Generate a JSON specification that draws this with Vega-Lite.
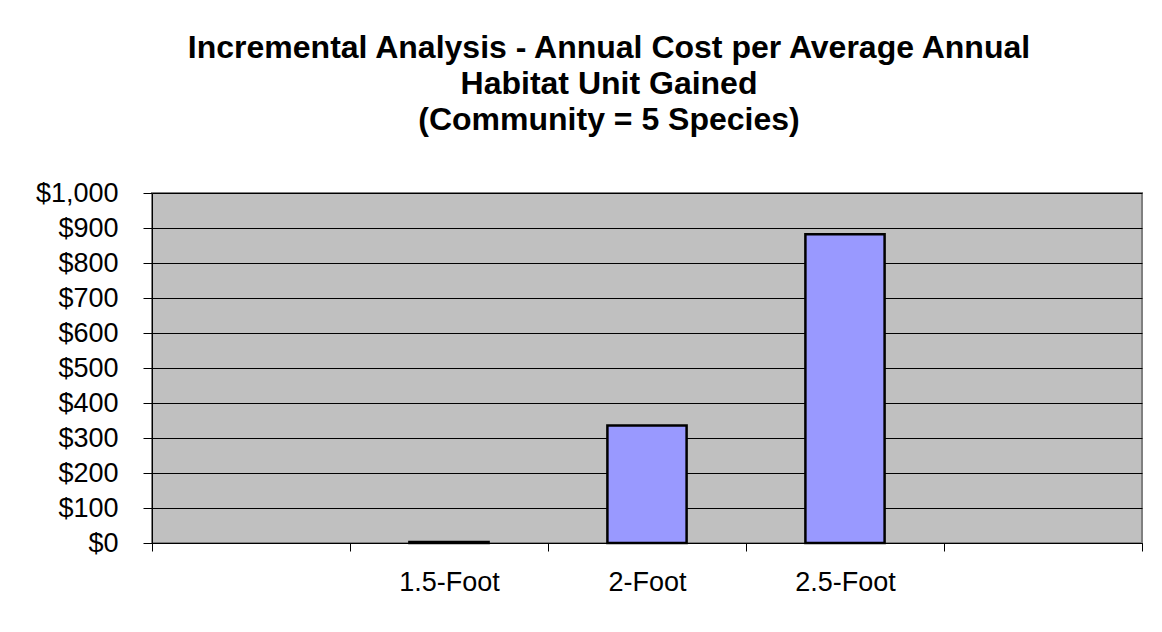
{
  "$schema": "https://vega.github.io/schema/vega-lite/v6.json",
  "autosize": {"type": "none"},
  "width": 990,
  "height": 350,
  "padding": {"left": 152, "top": 193, "right": 20, "bottom": 89},
  "background": "white",
  "title": {
    "text": ["Incremental Analysis - Annual Cost per Average Annual", "Habitat Unit Gained", "(Community = 5 Species)"],
    "font": "Liberation Sans",
    "fontSize": 32,
    "fontWeight": "bold",
    "color": "black",
    "anchor": "middle",
    "dx": -38,
    "lineHeight": 36,
    "offset": 42
  },
  "data": {
    "values": [
      {"option": "1.5-Foot", "cost": 3},
      {"option": "2-Foot", "cost": 336},
      {"option": "2.5-Foot", "cost": 882}
    ]
  },
  "mark": {"type": "bar", "width": {"band": 0.4}, "fill": "#9999FF", "stroke": "black", "strokeWidth": 2.5},
  "encoding": {
    "x": {
      "field": "option",
      "type": "nominal",
      "scale": {"domain": ["lead", "1.5-Foot", "2-Foot", "2.5-Foot", "trail"], "paddingInner": 0, "paddingOuter": 0},
      "axis": {
        "title": null,
        "labelAngle": 0,
        "labelExpr": "indexof(['1.5-Foot','2-Foot','2.5-Foot'], datum.value) >= 0 ? datum.value : ''",
        "tickBand": "extent",
        "tickSize": 8,
        "tickColor": "black",
        "domainColor": "black",
        "domainWidth": 1,
        "labelFont": "Liberation Sans",
        "labelFontSize": 27,
        "labelColor": "black",
        "labelPadding": 18,
        "grid": false
      }
    },
    "y": {
      "field": "cost",
      "type": "quantitative",
      "scale": {"domain": [0, 1000]},
      "axis": {
        "title": null,
        "values": [0, 100, 200, 300, 400, 500, 600, 700, 800, 900, 1000],
        "format": "$,d",
        "tickSize": 9,
        "tickColor": "black",
        "domainColor": "black",
        "domainWidth": 1,
        "labelFont": "Liberation Sans",
        "labelFontSize": 27,
        "labelColor": "black",
        "labelPadding": 25,
        "grid": true,
        "gridColor": "black",
        "gridWidth": 1,
        "gridOpacity": 1
      }
    }
  },
  "config": {
    "view": {"fill": "#C0C0C0", "stroke": "#808080", "strokeWidth": 2}
  }
}
